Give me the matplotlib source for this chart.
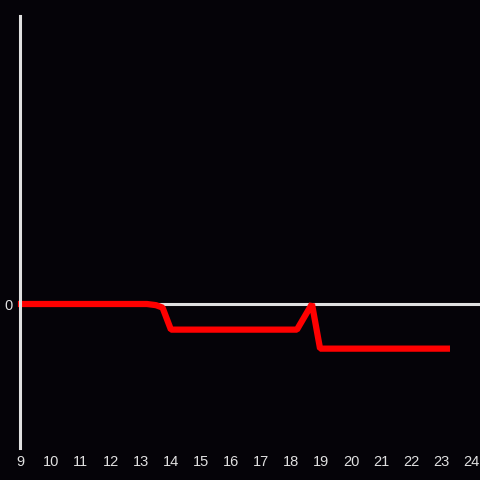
import matplotlib
matplotlib.use("Agg")
import matplotlib.pyplot as plt

# data
hours = [8.9, 13.2, 13.5, 13.72, 14.0, 18.2, 18.7, 18.97, 23.3]
values = [0.0, 0.0, -0.008, -0.025, -0.178, -0.178, 0.0, -0.31, -0.31]
xticks = list(range(9, 25))

bg = "#050308"
fg = "#e0e0e0"

plt.rcParams['font.family'] = ['Liberation Sans', 'DejaVu Sans']

fig = plt.figure(figsize=(4.8, 4.8), dpi=100, facecolor=bg)
ax = fig.add_axes([20/480, 32/480, 460/480, 432/480])
ax.set_facecolor(bg)

ax.axhline(0, color=fg, lw=2.2, zorder=1)
ax.plot(hours, values, color="#ff0000", lw=4.5, solid_joinstyle="bevel",
        solid_capstyle="butt", zorder=3, clip_on=False)

ax.set_xlim(8.97, 24.3)
ax.set_ylim(-1, 2)
ax.set_xticks(xticks)
ax.set_yticks([0])
ax.tick_params(length=0, colors=fg, labelsize=10.5, pad=5)
for side in ["top", "right", "bottom"]:
    ax.spines[side].set_visible(False)
ax.spines["left"].set_color(fg)
ax.spines["left"].set_linewidth(2.2)
ax.spines["left"].set_zorder(4)

fig.savefig("out.png", dpi=100, facecolor=bg)
